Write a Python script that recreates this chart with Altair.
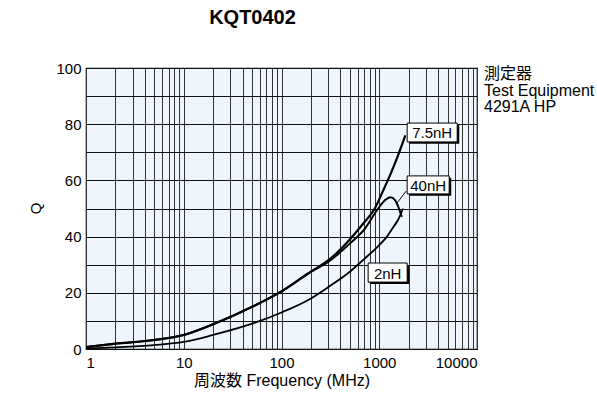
import altair as alt
import pandas as pd

# ---- data ----
freq_75 = [1, 2, 5, 10, 20, 50, 100, 200, 300, 500, 700, 900, 1100, 1350, 1600, 1850]
q_75 = [0.7, 1.9, 3.2, 5, 8.8, 15, 20.5, 27.5, 31.5, 39, 45, 50, 56.5, 63.5, 70, 76]

freq_40 = [1, 2, 5, 10, 20, 50, 100, 200, 300, 500, 700, 975, 1150, 1300, 1450, 1550, 1700]
q_40 = [0.7, 1.9, 3.2, 5, 8.8, 15, 20.5, 27.5, 31, 37.5, 42.5, 50, 53, 54, 53, 51, 47]

freq_2 = [1, 2, 5, 10, 20, 50, 100, 200, 300, 500, 700, 1000, 1200, 1400, 1560, 1750]
q_2 = [0.2, 0.6, 1.4, 2.5, 5, 9, 13, 18, 22, 27.5, 32, 37, 40, 43.5, 46, 50]

label_text = ["7.5nH", "40nH", "2nH"]
box_f0 = [1930, 1930, 770]
box_f1 = [6270, 5190, 1930]
box_qtop = [80.4, 61.6, 30.6]
box_qbot = [73.7, 55.2, 23.8]

leader_f = [1885, 1525]
leader_q = [56.2, 52.0]

x_grid_vals = [m * 10 ** k for k in range(4) for m in range(1, 10)] + [10000]
y_grid_vals = list(range(0, 101, 10))

FONT = "Liberation Sans, Noto Sans CJK JP"

rows = []
for name, fs, qs in [("7.5nH", freq_75, q_75), ("40nH", freq_40, q_40), ("2nH", freq_2, q_2)]:
    for f, q in zip(fs, qs):
        rows.append({"series": name, "freq": f, "q": q})
curves = pd.DataFrame(rows)

boxes = pd.DataFrame({
    "label": label_text, "f0": box_f0, "f1": box_f1, "qt": box_qtop, "qb": box_qbot,
})
boxes["fc"] = (boxes["f0"] * boxes["f1"]) ** 0.5
boxes["qc"] = (boxes["qt"] + boxes["qb"]) / 2

leader = pd.DataFrame({"f0": [leader_f[0]], "f1": [leader_f[1]], "q0": [leader_q[0]], "q1": [leader_q[1]]})

xs = alt.Scale(type="log", domain=[1, 10000], nice=False)
ys = alt.Scale(domain=[0, 100], nice=False)

x_axis = alt.Axis(
    values=x_grid_vals,
    labelExpr="indexof([1,10,100,1000,10000], datum.value) >= 0 ? format(datum.value, 'd') : ''",
    labelOverlap=False, ticks=False, labelPadding=6, labelFontSize=15,
    labelColor="black", labelFont=FONT, grid=True, gridColor="#333333", gridWidth=1,
    domain=False, title="周波数 Frequency (MHz)", titleFont=FONT, titleFontSize=16,
    titleFontWeight="normal", titleColor="black", titlePadding=2,
)
y_axis = alt.Axis(
    values=y_grid_vals,
    labelExpr="datum.value % 20 == 0 ? datum.label : ''",
    ticks=False, labelPadding=5, labelFontSize=15, labelColor="black", labelFont=FONT,
    grid=True, gridColor="#111111", gridWidth=1, domain=False,
    title="Q", titleFont=FONT, titleFontSize=15, titleFontWeight="normal", titleColor="black",
    titleX=-51, titleY=140, titleAlign="center", titleBaseline="middle",
)


def X(field):
    return alt.X(field, type="quantitative", scale=xs, axis=x_axis)


def Y(field):
    return alt.Y(field, type="quantitative", scale=ys, axis=y_axis)


base_lines = alt.Chart(curves).mark_line(
    color="black", interpolate="monotone"
).encode(
    x=X("freq"),
    y=Y("q"),
    detail="series:N",
    strokeWidth=alt.StrokeWidth("series:N", scale=alt.Scale(domain=["7.5nH", "40nH", "2nH"], range=[2.2, 1.8, 1.6]), legend=None),
)

leader_rule = alt.Chart(leader).mark_rule(color="black", strokeWidth=1).encode(
    x=X("f0"), x2="f1:Q",
    y=Y("q0"), y2="q1:Q",
)

shadow = alt.Chart(boxes).transform_calculate(
    sf0="datum.f0 * 1.05", sf1="datum.f1 * 1.05", sqt="datum.qt - 0.7", sqb="datum.qb - 0.7"
).mark_rect(color="black").encode(
    x=X("sf0"), x2="sf1:Q",
    y=Y("sqt"), y2="sqb:Q",
)

box = alt.Chart(boxes).mark_rect(fill="white", stroke="black", strokeWidth=1).encode(
    x=X("f0"), x2="f1:Q",
    y=Y("qt"), y2="qb:Q",
)

box_text = alt.Chart(boxes).mark_text(fontSize=15, font=FONT, color="black", baseline="middle", align="center", dy=1).encode(
    x=X("fc"),
    y=Y("qc"),
    text="label:N",
)

note = alt.Chart(pd.DataFrame({"t": ["測定器\nTest Equipment\n4291A HP"]})).mark_text(
    align="left", baseline="top", fontSize=16, font=FONT, color="black", lineBreak="\n", lineHeight=16.5
).encode(x=alt.value(398), y=alt.value(-2), text="t:N")

chart = alt.layer(base_lines, leader_rule, shadow, box, box_text, note).properties(
    width=391, height=281,
    title=alt.TitleParams("KQT0402", fontSize=20, fontWeight="bold", font=FONT, color="black",
                          anchor="middle", dx=-29, offset=33),
    autosize=alt.AutoSizeParams(type="none"),
    padding={"left": 86, "top": 68, "right": 120, "bottom": 45},
    background="white",
).configure_view(fill="#EEF5FC", stroke="black", strokeWidth=1.2)

chart.save("out.html", embed_options={"renderer": "svg", "actions": False})
